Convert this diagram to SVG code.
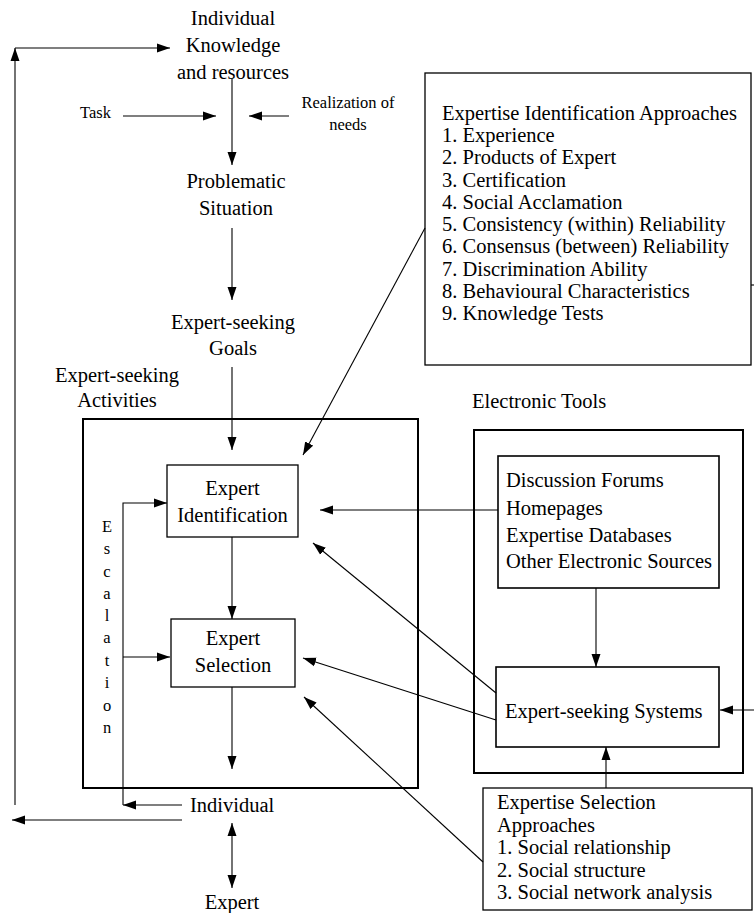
<svg xmlns="http://www.w3.org/2000/svg" width="754" height="913" viewBox="0 0 754 913">
<style>
text{font-family:"Liberation Serif","Times New Roman",serif;font-size:20.5px;fill:#000}
.c{text-anchor:middle}
.s{font-size:16.5px}
.box{fill:#fff;stroke:#000}
.ln{fill:none;stroke:#000;stroke-width:1.1}
</style>
<defs>
<marker id="a" markerUnits="userSpaceOnUse" markerWidth="14" markerHeight="10" refX="13" refY="5" orient="auto-start-reverse"><path d="M0,0.5 L13,5 L0,9.5 z" fill="#000"/></marker>
</defs>
<rect width="754" height="913" fill="#fff"/>
<g id="electronic-tools-group">
<rect class="box" x="474" y="430" width="269" height="343" stroke-width="2"/>
<text x="472" y="408">Electronic Tools</text>
</g>
<g id="activities-group">
<rect class="box" x="83" y="419" width="335" height="369" stroke-width="2"/>
<text class="c" x="117" y="382">Expert-seeking</text>
<text class="c" x="117" y="407">Activities</text>
</g>
<g id="individual-knowledge">
<text class="c" x="233" y="25">Individual</text>
<text class="c" x="233" y="52">Knowledge</text>
<text class="c" x="233" y="79">and resources</text>
</g>
<g id="task"><text class="s" x="80" y="118">Task</text></g>
<g id="realization"><text class="s c" x="348" y="108">Realization of</text><text class="s c" x="348" y="130">needs</text></g>
<g id="problematic-situation">
<text class="c" x="236" y="188">Problematic</text>
<text class="c" x="236" y="215">Situation</text>
</g>
<g id="goals">
<text class="c" x="233" y="329">Expert-seeking</text>
<text class="c" x="233" y="355">Goals</text>
</g>
<g id="id-approaches">
<rect class="box" x="425" y="73" width="326" height="292" stroke-width="1.3"/>
<text x="442" y="120">Expertise Identification Approaches</text>
<text x="442" y="142">1. Experience</text>
<text x="442" y="164">2. Products of Expert</text>
<text x="442" y="187">3. Certification</text>
<text x="442" y="209">4. Social Acclamation</text>
<text x="442" y="231">5. Consistency (within) Reliability</text>
<text x="442" y="253">6. Consensus (between) Reliability</text>
<text x="442" y="276">7. Discrimination Ability</text>
<text x="442" y="298">8. Behavioural Characteristics</text>
<text x="442" y="320">9. Knowledge Tests</text>
</g>
<g id="expert-identification">
<rect class="box" x="167" y="465" width="131" height="72" stroke-width="1.3"/>
<text class="c" x="232.5" y="495">Expert</text>
<text class="c" x="232.5" y="522">Identification</text>
</g>
<g id="expert-selection">
<rect class="box" x="171" y="619" width="124" height="68" stroke-width="1.3"/>
<text class="c" x="233" y="645">Expert</text>
<text class="c" x="233" y="672">Selection</text>
</g>
<g id="escalation">
<text class="s c" x="107" y="532">E</text>
<text class="s c" x="107" y="554">s</text>
<text class="s c" x="107" y="577">c</text>
<text class="s c" x="107" y="599">a</text>
<text class="s c" x="107" y="621">l</text>
<text class="s c" x="107" y="643">a</text>
<text class="s c" x="107" y="666">t</text>
<text class="s c" x="107" y="688">i</text>
<text class="s c" x="107" y="711">o</text>
<text class="s c" x="107" y="733">n</text>
</g>
<g id="electronic-sources">
<rect class="box" x="498" y="456" width="221" height="132" stroke-width="1.6"/>
<text x="506" y="487">Discussion Forums</text>
<text x="506" y="515">Homepages</text>
<text x="506" y="542">Expertise Databases</text>
<text x="506" y="568">Other Electronic Sources</text>
</g>
<g id="expert-seeking-systems">
<rect class="box" x="496" y="667" width="223" height="80" stroke-width="1.6"/>
<text x="505" y="718">Expert-seeking Systems</text>
</g>
<g id="selection-approaches">
<rect class="box" x="483" y="788" width="269" height="122" stroke-width="1.3"/>
<text x="497" y="809">Expertise Selection</text>
<text x="497" y="832">Approaches</text>
<text x="497" y="854">1. Social relationship</text>
<text x="497" y="877">2. Social structure</text>
<text x="497" y="899">3. Social network analysis</text>
</g>
<g id="individual"><text x="190" y="812">Individual</text></g>
<g id="expert"><text class="c" x="232" y="909">Expert</text></g>
<g id="connectors">
<path class="ln" d="M15,805 L15,48" marker-end="url(#a)"/>
<path class="ln" d="M15,48 L170,48" marker-end="url(#a)"/>
<path class="ln" d="M232,79 L232,165" marker-end="url(#a)"/>
<path class="ln" d="M123,116 L216,116" marker-end="url(#a)"/>
<path class="ln" d="M289,116 L249,116" marker-end="url(#a)"/>
<path class="ln" d="M232,228 L232,300" marker-end="url(#a)"/>
<path class="ln" d="M232,367 L232,450" marker-end="url(#a)"/>
<path class="ln" d="M425,228 L303,455" marker-end="url(#a)"/>
<path class="ln" d="M498,510 L320,510" marker-end="url(#a)"/>
<path class="ln" d="M232,537 L232,619" marker-end="url(#a)"/>
<path class="ln" d="M123,805 L123,503 L167,503" marker-end="url(#a)"/>
<path class="ln" d="M123,657 L170,657" marker-end="url(#a)"/>
<path class="ln" d="M182,805 L123,805" marker-end="url(#a)"/>
<path class="ln" d="M182,820 L12,820" marker-end="url(#a)"/>
<path class="ln" d="M232,687 L232,769" marker-end="url(#a)"/>
<path class="ln" d="M232,823 L232,888" marker-start="url(#a)" marker-end="url(#a)"/>
<path class="ln" d="M596,588 L596,667" marker-end="url(#a)"/>
<path class="ln" d="M496,693 L313,543" marker-end="url(#a)"/>
<path class="ln" d="M496,720 L303,658" marker-end="url(#a)"/>
<path class="ln" d="M483,862 L304,697" marker-end="url(#a)"/>
<path class="ln" d="M606,788 L606,747" marker-end="url(#a)"/>
<path class="ln" d="M754,710 L720,710" marker-end="url(#a)"/>
<path class="ln" d="M751,285 L754,285"/>
</g>
</svg>
